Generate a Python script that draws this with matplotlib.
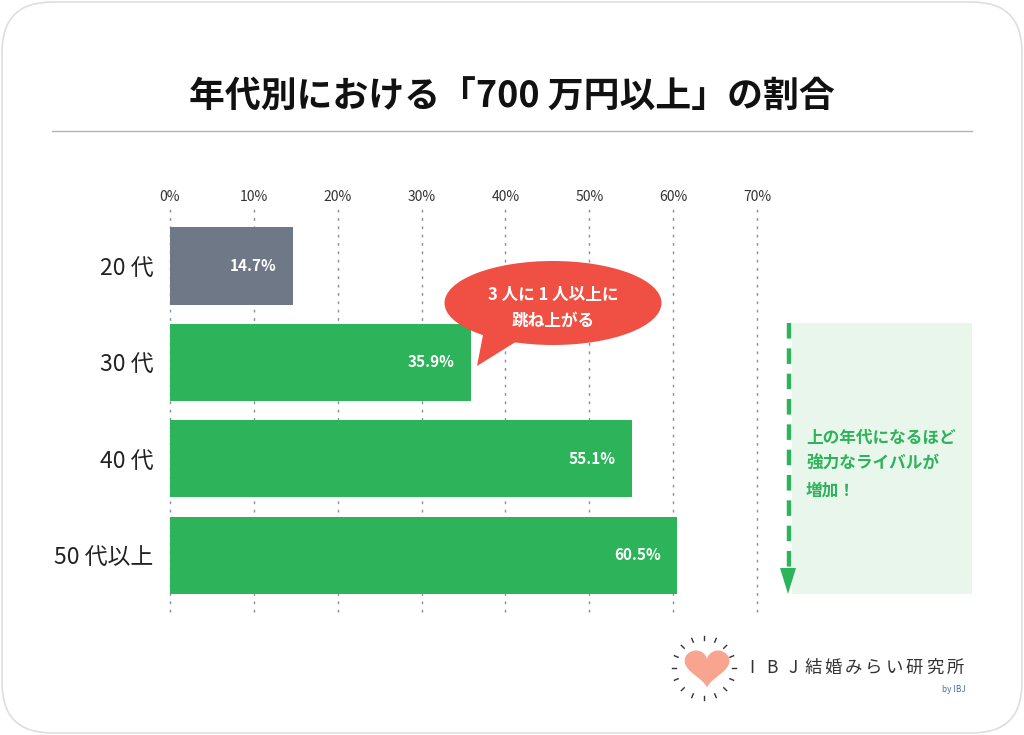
import numpy as np
import matplotlib
matplotlib.use("Agg")
from matplotlib import pyplot as plt
from matplotlib.patches import FancyBboxPatch, Ellipse, Polygon, Rectangle

plt.rcParams['font.family'] = ['Noto Sans CJK JP', 'DejaVu Sans']

# data
categories = ['20 代', '30 代', '40 代', '50 代以上']
values = [14.7, 35.9, 55.1, 60.5]
bar_colors = ['#6f7886', '#2db35a', '#2db35a', '#2db35a']
xticks = [0, 10, 20, 30, 40, 50, 60, 70]
title = '年代別における「700 万円以上」の割合'
bubble_text = '3 人に 1 人以上に\n跳ね上がる'
note_text = '上の年代になるほど\n強力なライバルが\n増加！'
logo_text = 'IBJ結婚みらい研究所'

W, H = 1024, 735
fig = plt.figure(figsize=(W / 100, H / 100), dpi=100)
fig.patch.set_facecolor('white')

# background card
bg = fig.add_axes([0, 0, 1, 1], zorder=0)
bg.set_xlim(0, W)
bg.set_ylim(H, 0)
bg.axis('off')
bg.add_patch(FancyBboxPatch((2, 2), W - 4, H - 4, boxstyle='round,pad=0,rounding_size=50',
                            facecolor='white', edgecolor='#dedede', lw=1.2))
bg.text(512, 97, title, ha='center', va='center', fontsize=25.8, fontweight='bold', color='#111111')
bg.plot([52, 972], [131, 131], color='#b0b4ba', lw=1)

# main bar chart
ax = fig.add_axes([170 / W, 1 - 612 / H, 587 / W, 407 / H], zorder=1)
ax.patch.set_alpha(0)
y = np.arange(len(categories))
ax.barh(y, values, height=0.8, color=bar_colors, zorder=2)
ax.set_xlim(0, 70)
ax.set_ylim(3.59, -0.633)
ax.set_yticks(y)
ax.set_yticklabels(categories, fontsize=16.5, color='#222222')
ax.set_xticks(xticks)
ax.set_xticklabels([f'{t}%' for t in xticks], fontsize=10, color='#333333')
ax.xaxis.tick_top()
ax.tick_params(axis='both', length=0)
ax.tick_params(axis='x', pad=1)
ax.tick_params(axis='y', pad=12)
for s in ax.spines.values():
    s.set_visible(False)
for t in xticks:
    ax.axvline(t, color='#8a8f96', lw=1, linestyle=(0, (2, 4)), zorder=1, clip_on=False)
for yi, v in zip(y, values):
    ax.text(v - 2.0, yi, f'{v}%', ha='right', va='center', fontsize=11,
            fontweight='bold', color='white', zorder=3)

# overlay: bubble, note panel, logo
ov = fig.add_axes([0, 0, 1, 1], zorder=2)
ov.patch.set_alpha(0)
ov.set_xlim(0, W)
ov.set_ylim(H, 0)
ov.axis('off')

red = '#f04f43'
ov.add_patch(Ellipse((553, 303), 217, 84, facecolor=red, edgecolor='none'))
ov.add_patch(Polygon([(484, 330), (477, 366), (522, 338)], closed=True, facecolor=red, edgecolor='none'))
ov.text(553, 308, bubble_text, ha='center', va='center', fontsize=12, fontweight='bold',
        color='white', linespacing=1.6)

green = '#2db35a'
ov.add_patch(Rectangle((792, 323), 180, 271, facecolor='#e8f6ec', edgecolor='none'))
ov.plot([789, 789], [323, 572], color=green, lw=3.2, linestyle=(0, (3.5, 2.2)))
ov.add_patch(Polygon([(780, 568), (796, 568), (788, 594)], closed=True, facecolor=green, edgecolor='none'))
ov.text(806, 464, note_text, ha='left', va='center', fontsize=12, fontweight='bold',
        color=green, linespacing=1.6)

# logo heart
cx, cy = 707, 668
tt = np.linspace(0, 2 * np.pi, 200)
hx = 16 * np.sin(tt) ** 3
hy = 13 * np.cos(tt) - 5 * np.cos(2 * tt) - 2 * np.cos(3 * tt) - np.cos(4 * tt)
ov.fill(cx + hx * 1.4, cy - hy * 1.3 - 2, color='#f9a48e', lw=0)
for a in np.linspace(0, 2 * np.pi, 16, endpoint=False):
    r1, r2 = 28, 32
    ov.plot([cx - 3 + r1 * np.cos(a), cx - 3 + r2 * np.cos(a)],
            [cy + r1 * np.sin(a), cy + r2 * np.sin(a)], color='#333333', lw=1)
x0 = 752
for i, ch in enumerate(logo_text):
    ov.text(x0 + i * 20.3, 668, ch, ha='center', va='center', fontsize=12.5, color='#333333')
ov.text(966, 690, 'by IBJ', ha='right', va='center', fontsize=6, color='#4a6fa5')

fig.savefig('out.png', dpi=100, facecolor='white')
